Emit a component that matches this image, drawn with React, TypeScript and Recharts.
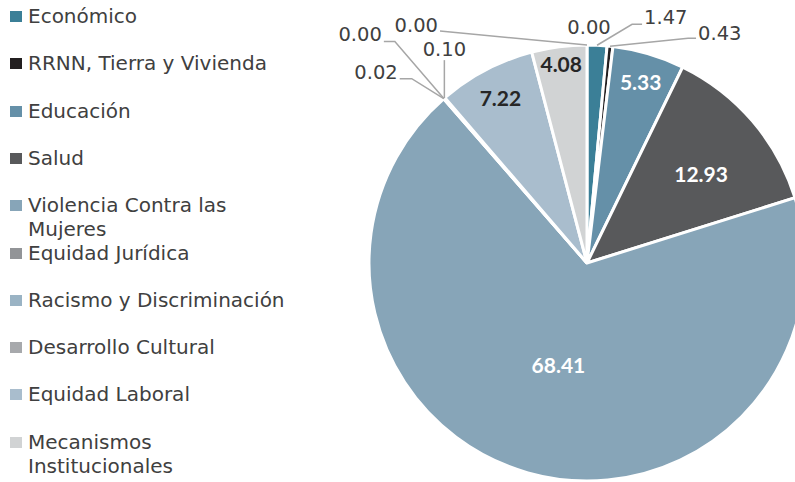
import { PieChart, Pie, Cell, Legend } from "recharts";

// categorías en el orden del gráfico (las dos últimas no salen en la leyenda)
const categories = [
  "Económico",
  "RRNN, Tierra y Vivienda",
  "Educación",
  "Salud",
  "Violencia Contra las Mujeres",
  "Equidad Jurídica",
  "Racismo y Discriminación",
  "Desarrollo Cultural",
  "Equidad Laboral",
  "Mecanismos Institucionales",
  "Otros",
  "Sin clasificar",
];

const values = [1.47, 0.43, 5.33, 12.93, 68.41, 0.02, 0.0, 0.1, 7.22, 4.08, 0.0, 0.0];

const colors = [
  "#3b7f97",
  "#231f20",
  "#6590a8",
  "#58595b",
  "#87a5b8",
  "#929497",
  "#9ab3c4",
  "#a7a9ac",
  "#a9bdcd",
  "#d1d3d4",
  "#bcbec0",
  "#c7c8ca",
];

const legendCount = 10;

const data = categories.map((name, i) => ({ name, value: values[i] }));

const CX = 587;
const CY = 263;
const R = 218;
const RAD = Math.PI / 180;

const FONT = "'DejaVu Sans', sans-serif";
const TEXT = "#404040";

type InLabel = { kind: "in"; r: number; da?: number; color: string };
type OutLabel = {
  kind: "out";
  path: [number, number][];
  tx: number;
  ty: number;
  anchor: "start" | "middle" | "end";
};

// colocación de etiquetas, relativa al borde de cada porción
const labelLayout: (InLabel | OutLabel)[] = [
  { kind: "out", path: [[35, -21], [45, -21]], tx: 47, ty: -28, anchor: "start" },
  { kind: "out", path: [[78, -8], [86, -8]], tx: 88, ty: -13, anchor: "start" },
  { kind: "in", r: 0.87, color: "#ffffff" },
  { kind: "in", r: 0.665, da: 2.6, color: "#ffffff" },
  { kind: "in", r: 0.483, color: "#ffffff" },
  { kind: "out", path: [[-32, -20], [-44, -20]], tx: -46, ty: -26, anchor: "end" },
  { kind: "out", path: [[-49, -57], [-60, -57]], tx: -62, ty: -64, anchor: "end" },
  { kind: "out", path: [[0, -38]], tx: 0, ty: -49, anchor: "middle" },
  { kind: "in", r: 0.855, color: "#262626" },
  { kind: "in", r: 0.925, color: "#262626" },
  { kind: "out", path: [], tx: 2, ty: -18, anchor: "middle" },
  { kind: "out", path: [[-147, -14]], tx: -149, ty: -20, anchor: "end" },
];

function renderLabel(props: any) {
  const { cx, cy, midAngle, outerRadius, index, value } = props;
  const layout = labelLayout[index];
  const text = Number(value).toFixed(2);
  if (!layout) return null;
  if (layout.kind === "in") {
    const a = (midAngle - (layout.da ?? 0)) * RAD;
    const x = cx + Math.cos(-a) * outerRadius * layout.r;
    const y = cy + Math.sin(-a) * outerRadius * layout.r;
    return (
      <text
        x={x}
        y={y}
        fill={layout.color}
        textAnchor="middle"
        dominantBaseline="central"
        fontFamily="Lato, sans-serif"
        fontWeight={700}
        fontSize={21}
      >
        {text}
      </text>
    );
  }
  const ex = cx + Math.cos(-midAngle * RAD) * outerRadius;
  const ey = cy + Math.sin(-midAngle * RAD) * outerRadius;
  const pts = [[ex, ey], ...layout.path.map(([dx, dy]) => [ex + dx, ey + dy])];
  return (
    <g>
      {pts.length > 1 && (
        <polyline
          points={pts.map((p) => p.join(",")).join(" ")}
          fill="none"
          stroke="#a6a6a6"
          strokeWidth={1.5}
        />
      )}
      <text
        x={ex + layout.tx}
        y={ey + layout.ty}
        fill={TEXT}
        textAnchor={layout.anchor}
        dominantBaseline="central"
        fontFamily={FONT}
        fontSize={19.5}
      >
        {text}
      </text>
    </g>
  );
}

function renderLegend() {
  return (
    <div style={{ position: "relative", width: 290, height: 482 }}>
      {categories.slice(0, legendCount).map((name, i) => (
        <div
          key={name}
          style={{
            position: "absolute",
            left: 28,
            top: 4 + i * 47.3,
            width: 262,
            fontFamily: FONT,
            fontSize: 20,
            lineHeight: "24px",
            color: TEXT,
            textAlign: "left",
          }}
        >
          <span
            style={{
              position: "absolute",
              left: -18,
              top: 7,
              width: 12,
              height: 11,
              background: colors[i],
            }}
          />
          {name}
        </div>
      ))}
    </div>
  );
}

export default function App() {
  return (
    <div style={{ position: "absolute", left: 0, top: 0, width: 795, height: 482, background: "#fff" }}>
      <PieChart width={795} height={482} margin={{ top: 0, right: 0, bottom: 0, left: 0 }}>
        <Legend
          content={renderLegend}
          wrapperStyle={{ position: "absolute", left: 0, top: 0, width: 290, height: 482 }}
        />
        <Pie
          data={data}
          dataKey="value"
          nameKey="name"
          cx={CX}
          cy={CY}
          outerRadius={R}
          startAngle={90}
          endAngle={-270}
          stroke="#ffffff"
          strokeWidth={3}
          label={renderLabel}
          labelLine={false}
          isAnimationActive={false}
        >
          {data.map((d, i) => (
            <Cell key={d.name} fill={colors[i]} />
          ))}
        </Pie>
      </PieChart>
    </div>
  );
}
